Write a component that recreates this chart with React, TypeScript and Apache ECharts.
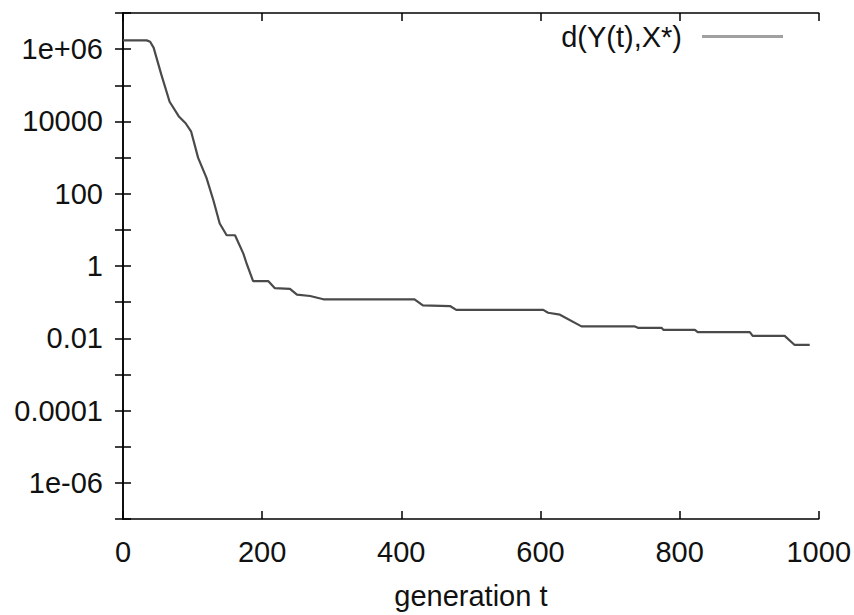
import React, { useEffect, useRef } from "react";
import * as echarts from "echarts";

const generations = [0, 34, 39, 44, 55, 67, 80, 90, 98, 108, 120, 130, 139, 149, 161, 173, 178, 187, 209, 218, 240, 250, 269, 288, 419, 431, 470, 479, 604, 611, 628, 659, 735, 740, 774, 777, 822, 826, 901, 905, 951, 965, 987];
const distances = [1.75e6, 1.75e6, 1.6e6, 1.1e6, 2.0e5, 3.5e4, 1.4e4, 8900, 5200, 980, 275, 65, 15, 7.1, 7.1, 2.2, 1.12, 0.38, 0.38, 0.245, 0.234, 0.162, 0.148, 0.12, 0.12, 0.081, 0.078, 0.061, 0.061, 0.051, 0.045, 0.0214, 0.0214, 0.0195, 0.0195, 0.017, 0.017, 0.0148, 0.0148, 0.0117, 0.0117, 0.0066, 0.0066];

const seriesName = "d(Y(t),X*)";
const xAxisName = "generation t";
const yTickExponents = [-6, -4, -2, 0, 2, 4, 6];
const yTickLabels = ["1e-06", "0.0001", "0.01", "1", "100", "10000", "1e+06"];
const xMin = 0;
const xMax = 1000;
const xInterval = 200;
const yMin = 1e-7;
const yMax = 1e7;

const FONT = "'Liberation Sans', Arial, Helvetica, sans-serif";
const FS = 29;

export default function App() {
  const ref = useRef<HTMLDivElement>(null);
  useEffect(() => {
    if (!ref.current) return;
    const chart = echarts.init(ref.current, null, { renderer: "svg" });
    const yFormatter = (v: number) => {
      const e = Math.round(Math.log10(v));
      const i = yTickExponents.indexOf(e);
      return i >= 0 ? yTickLabels[i] : "";
    };
    const axisLine = { show: true, lineStyle: { color: "#000", width: 1.5 } };
    const tick = { show: true, inside: true, length: 8, lineStyle: { color: "#000", width: 1.5 } };
    chart.setOption({
      animation: false,
      backgroundColor: "#fff",
      textStyle: { fontFamily: FONT },
      grid: { left: 123, right: 34, top: 13, bottom: 89, show: false },
      legend: {
        show: true,
        right: 71,
        top: 22,
        padding: 0,
        align: "right",
        icon: "rect",
        itemWidth: 81,
        itemHeight: 3,
        itemStyle: { color: "#a0a0a0", borderWidth: 0 },
        textStyle: { fontFamily: FONT, fontSize: FS, color: "#111", padding: [0, 15, 0, 0] },
        data: [seriesName],
      },
      xAxis: [
        {
          type: "value",
          min: xMin,
          max: xMax,
          interval: xInterval,
          position: "bottom",
          axisLine,
          axisTick: tick,
          splitLine: { show: false },
          axisLabel: { fontFamily: FONT, fontSize: FS, color: "#111", margin: 18, formatter: (v: number) => String(v) },
          name: xAxisName,
          nameLocation: "middle",
          nameGap: 62,
          nameTextStyle: { fontFamily: FONT, fontSize: FS, color: "#111" },
        },
        {
          type: "value",
          min: xMin,
          max: xMax,
          interval: xInterval,
          position: "top",
          axisLine,
          axisTick: tick,
          splitLine: { show: false },
          axisLabel: { show: false },
        },
      ],
      yAxis: [
        {
          type: "log",
          logBase: 10,
          min: yMin,
          max: yMax,
          interval: 1,
          position: "left",
          axisLine,
          axisTick: tick,
          splitLine: { show: false },
          minorTick: { show: false },
          axisLabel: { fontFamily: FONT, fontSize: FS, color: "#111", margin: 20, formatter: yFormatter, showMinLabel: true, showMaxLabel: true },
        },
        {
          type: "log",
          logBase: 10,
          min: yMin,
          max: yMax,
          interval: 1,
          position: "right",
          axisLine,
          axisTick: tick,
          splitLine: { show: false },
          axisLabel: { show: false },
        },
      ],
      series: [
        {
          name: seriesName,
          type: "line",
          xAxisIndex: 0,
          yAxisIndex: 0,
          showSymbol: false,
          symbol: "none",
          lineStyle: { color: "#4a4a4a", width: 2.2 },
          itemStyle: { color: "#4a4a4a" },
          data: generations.map((g, i) => [g, distances[i]]),
        },
      ],
    });
    return () => chart.dispose();
  }, []);
  return <div ref={ref} style={{ position: "fixed", left: 0, top: 0, width: 854, height: 615 }} />;
}
